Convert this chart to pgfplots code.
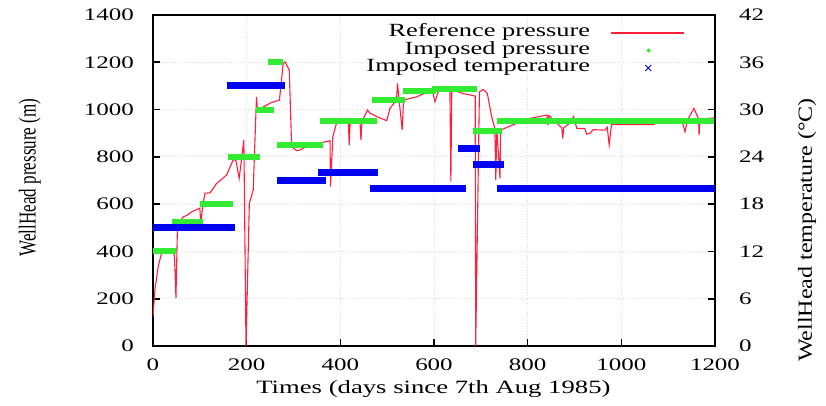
\documentclass[border=0pt]{standalone}
\usepackage{fontspec}
\setmainfont{Liberation Serif}[FakeStretch=1.42]
\newfontfamily\ylfont{Liberation Serif}[FakeStretch=0.704]
\newfontfamily\yrfont{Liberation Serif}[FakeStretch=1.2]
\usepackage{pgfplots}
\pgfplotsset{compat=1.18}
\definecolor{refred}{RGB}{255,30,60}
\definecolor{impgreen}{RGB}{50,235,50}
\definecolor{impblue}{RGB}{0,0,245}
\pgfplotsset{
  grn/.style={impgreen, line width=3pt, mark=none, forget plot},
  blu/.style={impblue, line width=3.5pt, mark=none},
}
\begin{document}
\begin{tikzpicture}
\begin{axis}[
  scale only axis, width=281pt, height=165.5pt,
  xmin=0, xmax=1200, ymin=0, ymax=1400,
  xtick={0,200,...,1200}, ytick={0,200,...,1400},
  tick pos=left, tick align=inside,
  major tick length=3.5pt,
  axis line style={line width=0.8pt},
  every tick/.style={black, line width=0.8pt},
  /pgf/number format/assume math mode=true,
  /pgf/number format/1000 sep={},
  ticklabel style={font=\fontsize{8.8}{10}\selectfont},
  yticklabel style={xshift=-6pt},
  xticklabel style={yshift=-3pt},
  xlabel={Times (days since 7th Aug 1985)},
  xlabel style={font=\fontsize{9.4}{11}\selectfont, at={(axis description cs:0.499,-0.130)}, anchor=center},
  ylabel={WellHead pressure (m)},
  ylabel style={font=\ylfont\fontsize{12.1}{14}\selectfont, at={(axis description cs:-0.219,0.509)}, anchor=center},
  grid=major, grid style={densely dotted, black!15},
]
\coordinate (O) at (rel axis cs:0,0);
\addplot[refred, line width=0.55pt, mark=none, forget plot] coordinates {
(0,124) (4,237) (11,335) (18,390) (25,400) (45,400) (47,321) (49,203) (52,483) (54,520)
(65,547) (72,552) (83,568) (100,583) (102,520) (107,604) (111,646) (122,648) (136,688)
(157,723) (171,786) (177,786) (184,709) (194,871) (198.6,0) (205.7,603) (214,660)
(221,1054) (223,998) (243,1019) (253,1030) (270,1040) (278,1195) (282,1202) (291,1167)
(296,843) (307,826) (314,829) (335,850) (378,868) (379,674) (384,885) (392,944)
(417,958) (419,850) (421,950) (442,948) (444,871) (446,950) (458,998) (463,985)
(478,970) (499,953) (506,1005) (520,1040) (522,1111) (532,913) (535,1040) (563,1054)
(591,1078) (596,1085) (602,1033) (609,1075) (634,1085) (636,695) (638,1085) (662,1068)
(688,1057) (689,0) (697,1075) (705,1085) (714,1068) (723,970) (730,920) (732,702)
(734,920) (741,709) (742,913) (762,930) (798,960) (841,977) (843,934) (845,975)
(873,923) (875,878) (877,923) (884,934) (890,942) (898,970) (905,920) (922,920)
(926,896) (933,900) (940,915) (965,913) (970,925) (974,850) (979,937) (1068,937)
(1093,955) (1129,955) (1136,906) (1141,955) (1155,1005) (1165,960) (1166,892)
(1168,960) (1200,965)
};
\addplot[grn] coordinates {(0,400) (50,400)};
\addplot[grn] coordinates {(40,525) (107,525)};
\addplot[grn] coordinates {(100,600) (170,600)};
\addplot[grn] coordinates {(161,800) (228,800)};
\addplot[grn] coordinates {(220,1000) (258,1000)};
\addplot[grn] coordinates {(245,1200) (278,1200)};
\addplot[grn] coordinates {(264,850) (364,850)};
\addplot[grn] coordinates {(357,950) (478,950)};
\addplot[grn] coordinates {(467,1040) (538,1040)};
\addplot[grn] coordinates {(534,1080) (605,1080)};
\addplot[grn] coordinates {(596,1085) (691,1085)};
\addplot[grn] coordinates {(684,910) (745,910)};
\addplot[grn] coordinates {(734,950) (1200,950)};
\end{axis}
\begin{axis}[
  scale only axis, width=281pt, height=165.5pt,
  xmin=0, xmax=1200, ymin=0, ymax=42,
  axis x line=none, axis y line*=right,
  ytick={0,6,...,42},
  tick align=inside,
  major tick length=3.5pt,
  axis line style={line width=0.8pt},
  every tick/.style={black, line width=0.8pt},
  /pgf/number format/assume math mode=true,
  ticklabel style={font=\fontsize{8.8}{10}\selectfont},
  yticklabel style={xshift=8.5pt},
  ylabel={WellHead temperature (°C)},
  ylabel style={font=\yrfont\fontsize{10}{12}\selectfont, at={(axis description cs:1.164,0.35)}, anchor=center},
  legend style={at={(axis description cs:0.954,0.972)}, anchor=north east,
    draw=none, fill=none, inner sep=0pt, outer sep=0pt,
    font=\fontsize{9.3}{10}\selectfont,
    nodes={inner sep=0pt, text height=6.3pt, text depth=2.45pt}},
  legend cell align=right,
  legend plot pos=right,
]
\addlegendimage{legend image code/.code={\path (0pt,0pt) (46pt,0pt); \draw[draw=refred, line width=0.7pt] (8.5pt,0pt) -- (45pt,0pt);}}
\addlegendentry{Reference pressure}
\addlegendimage{legend image code/.code={\path (0pt,0pt) (46pt,0pt); \fill[impgreen] (27.5pt,0pt) circle (0.8pt);}}
\addlegendentry{Imposed pressure}
\addplot[blu, legend image code/.code={\path (0pt,0pt) (46pt,0pt); \draw[impblue, line width=0.5pt] (25.8pt,-1.5pt) -- (28.8pt,1.5pt) (25.8pt,1.5pt) -- (28.8pt,-1.5pt);}] coordinates {(0,15) (175,15)};
\addlegendentry{Imposed temperature}
\addplot[blu, forget plot] coordinates {(157,33) (282,33)};
\addplot[blu, forget plot] coordinates {(264,21) (369,21)};
\addplot[blu, forget plot] coordinates {(353,22) (481,22)};
\addplot[blu, forget plot] coordinates {(463,20) (668,20)};
\addplot[blu, forget plot] coordinates {(652,25) (698,25)};
\addplot[blu, forget plot] coordinates {(684,23) (750,23)};
\addplot[blu, forget plot] coordinates {(734,20) (1200,20)};
\end{axis}
\pgfresetboundingbox
\path (O) ++(-76.5pt,-30pt) rectangle ++(413pt,203pt);
\end{tikzpicture}
\end{document}
